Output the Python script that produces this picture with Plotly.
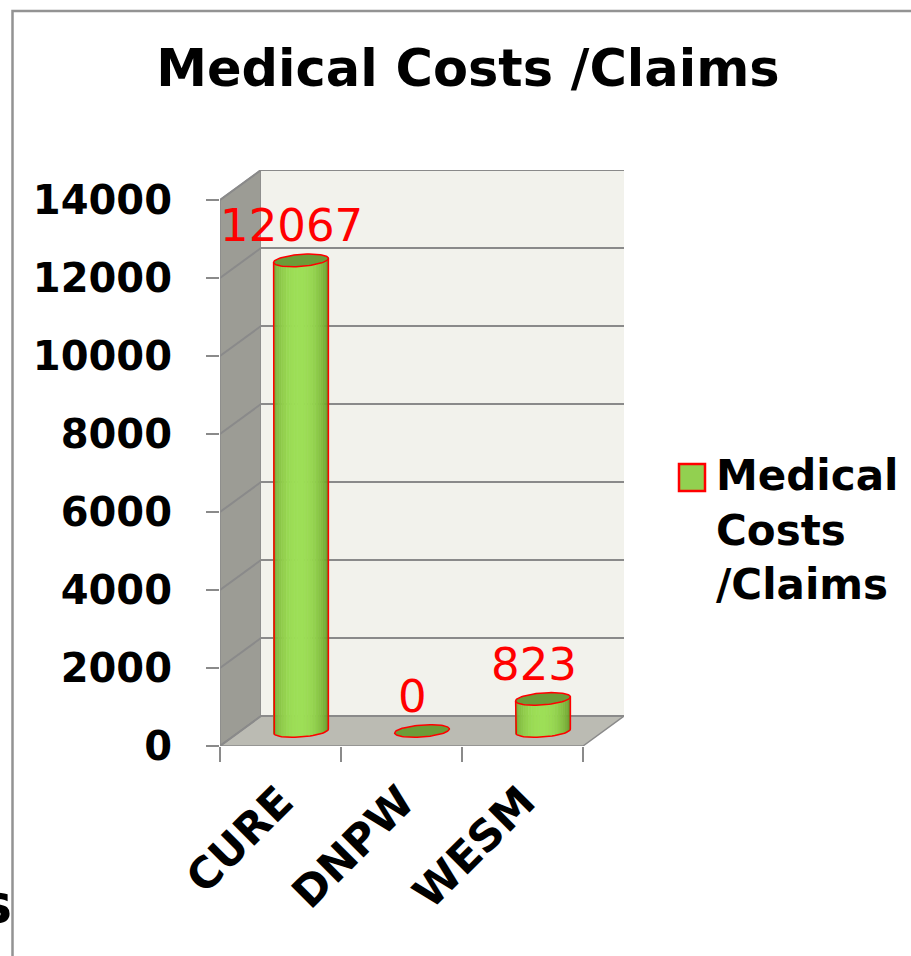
import numpy as np
import plotly.graph_objects as go

# ---------------- data ----------------
categories = ["CURE", "DNPW", "WESM"]
values = [12067, 0, 823]
series_name = "Medical Costs /Claims"
y_ticks = [0, 2000, 4000, 6000, 8000, 10000, 12000, 14000]
y_tick_labels = [str(v) for v in y_ticks]
title_text = "Medical Costs /Claims"

# ---------------- geometry (pixels) ----------------
W, H = 911, 956
L, R, T, B = 220, 287, 170, 210
PW = W - L - R
PH = H - T - B
DEPTH_PX_X, DEPTH_PX_Y = 41, 30

ncat = len(categories)
ymax_front = 14000
x_per_px = ncat / (PW - DEPTH_PX_X)
y_per_px = ymax_front / (PH - DEPTH_PX_Y)
dxc = DEPTH_PX_X * x_per_px
dyu = DEPTH_PX_Y * y_per_px
x0, x1 = -0.5, ncat - 0.5
ytop = ymax_front + dyu

def paper_x(px):
    return (px - L) / PW

def paper_y(py):
    return (H - B - py) / PH

GREEN_DARK = np.array([96, 140, 34])
GREEN_LIGHT = np.array([158, 224, 88])
TOP_FILL = "rgb(108,156,56)"
RED = "#ff0000"
GRID = "#8a8a8a"

fig = go.Figure()
shapes = []

# side wall
shapes.append(dict(type="path", xref="x", yref="y", layer="below",
                   path=f"M {x0},0 L {x0},{ymax_front} L {x0+dxc},{ytop} L {x0+dxc},{dyu} Z",
                   fillcolor="#9c9c95", line=dict(color=GRID, width=1.5)))
# back wall
shapes.append(dict(type="rect", xref="x", yref="y", layer="below",
                   x0=x0+dxc, x1=x1+dxc, y0=dyu, y1=ytop,
                   fillcolor="#f2f2ec", line=dict(width=0)))
# floor
shapes.append(dict(type="path", xref="x", yref="y", layer="below",
                   path=f"M {x0},0 L {x1},0 L {x1+dxc},{dyu} L {x0+dxc},{dyu} Z",
                   fillcolor="#bbbbb3", line=dict(color=GRID, width=1.5)))
# gridlines
for v in y_ticks:
    shapes.append(dict(type="line", xref="x", yref="y", layer="below",
                       x0=x0, y0=v, x1=x0+dxc, y1=v+dyu, line=dict(color=GRID, width=2)))
    shapes.append(dict(type="line", xref="x", yref="y", layer="below",
                       x0=x0+dxc, y0=v+dyu, x1=x1+dxc, y1=v+dyu, line=dict(color=GRID, width=2)))

# ---------------- cylinders ----------------
hw = 26 * x_per_px
a = 0.21
bsh = a * dxc
cv = a * dyu
t1 = np.arctan2(bsh, hw)
NSTRIP = 28

def ell(xc, yc, t):
    return xc + hw * np.cos(t) + bsh * np.sin(t), yc + cv * np.sin(t)

for i, v in enumerate(values):
    xc = i + dxc / 2
    yb = dyu / 2
    yt = v + dyu / 2
    ts = np.linspace(t1 - np.pi, t1, NSTRIP + 1)
    if v > 0:
        for k in range(NSTRIP):
            ta, tb = ts[k], ts[k + 1]
            s = (k + 0.5) / NSTRIP
            w = np.sin(np.pi * min(1.0, s * 1.05)) ** 0.9
            col = GREEN_DARK + (GREEN_LIGHT - GREEN_DARK) * w
            c = f"rgb({int(col[0])},{int(col[1])},{int(col[2])})"
            xa, ya = ell(xc, yb, ta)
            xb, yb2 = ell(xc, yb, tb)
            xa2, ya2 = ell(xc, yt, ta)
            xb2, yb3 = ell(xc, yt, tb)
            fig.add_trace(go.Scatter(
                x=[xa, xb, xb2, xa2, xa], y=[ya, yb2, yb3, ya2, ya],
                mode="lines", fill="toself", fillcolor=c,
                line=dict(width=0.6, color=c),
                hoverinfo="skip", showlegend=False))
        bx, by = ell(xc, yb, ts)
        lx, ly = ell(xc, yt, ts[0])
        rx, ry = ell(xc, yt, ts[-1])
        fig.add_trace(go.Scatter(
            x=[lx] + list(bx) + [rx], y=[ly] + list(by) + [ry],
            mode="lines", line=dict(color=RED, width=1.5),
            hoverinfo="skip", showlegend=False))
    tt = np.linspace(0, 2 * np.pi, 80)
    ex, ey = ell(xc, yt, tt)
    fig.add_trace(go.Scatter(
        x=ex, y=ey, mode="lines", fill="toself", fillcolor=TOP_FILL,
        line=dict(color=RED, width=1.5), hoverinfo="skip", showlegend=False))
    fig.add_annotation(x=xc - 0.075, y=yt, xref="x", yref="y", text=f"{v}",
                       showarrow=False, yanchor="bottom", yshift=6,
                       font=dict(family="DejaVu Sans", size=45, color=RED))

# invisible trace carrying category axis
fig.add_trace(go.Scatter(x=list(range(ncat)), y=values, xaxis="x2", mode="markers",
                         marker=dict(opacity=0), hoverinfo="skip", showlegend=False))

# ---------------- legend (manual) ----------------
shapes.append(dict(type="rect", xref="paper", yref="paper",
                   x0=paper_x(679), x1=paper_x(705), y0=paper_y(491), y1=paper_y(464),
                   fillcolor="#92d050", line=dict(color=RED, width=2.5)))
fig.add_annotation(x=paper_x(714), y=paper_y(449), xref="paper", yref="paper",
                   text="Medical<br>Costs<br>/Claims", showarrow=False,
                   xanchor="left", yanchor="top", align="left",
                   font=dict(family="DejaVu Sans", size=42, color="black", weight="bold"))

# ---------------- outer border + clipped letter ----------------
shapes.append(dict(type="path", xref="paper", yref="paper",
                   path=f"M {paper_x(12.5)},{paper_y(970)} L {paper_x(12.5)},{paper_y(11)} L {paper_x(925)},{paper_y(11)}",
                   line=dict(color="#939393", width=2.5)))
fig.add_annotation(x=paper_x(14), y=paper_y(925), xref="paper", yref="paper",
                   text="s", showarrow=False, xanchor="right", yanchor="bottom", yshift=-12,
                   font=dict(family="DejaVu Sans", size=54, color="black", weight="bold"))

fig.update_layout(
    width=W, height=H,
    margin=dict(l=L, r=R, t=T, b=B),
    paper_bgcolor="white", plot_bgcolor="rgba(0,0,0,0)",
    showlegend=False,
    shapes=shapes,
    title=dict(text=title_text, x=468 / W, xref="container", xanchor="center",
               y=1 - 68 / H, yref="container", yanchor="middle",
               font=dict(family="DejaVu Sans", size=51, color="black", weight="bold")),
    xaxis=dict(range=[x0, x1 + dxc], tickvals=[x0 + k for k in range(ncat + 1)],
               showticklabels=False, ticks="outside", ticklen=15, tickwidth=2,
               tickcolor=GRID, showgrid=False, zeroline=False, showline=False, fixedrange=True),
    xaxis2=dict(range=[x0, x1 + dxc], overlaying="x", anchor="y", side="bottom",
                tickvals=list(range(ncat)), ticktext=categories, tickangle=-45,
                ticks="outside", ticklen=12, tickcolor="rgba(0,0,0,0)",
                tickfont=dict(family="DejaVu Sans", size=43, color="black", weight="bold"),
                showgrid=False, zeroline=False, showline=False),
    yaxis=dict(range=[0, ytop], tickmode="array", tickvals=y_ticks, ticktext=y_tick_labels,
               ticks="outside", ticklen=13, tickwidth=2,
               tickcolor=GRID, ticklabelstandoff=26,
               tickfont=dict(family="DejaVu Sans", size=40, color="black", weight="bold"),
               showgrid=False, zeroline=False, showline=False),
)

fig.write_html("out.html", config={"displayModeBar": False},
               post_script="document.body.style.margin='0';document.body.style.padding='0';")
